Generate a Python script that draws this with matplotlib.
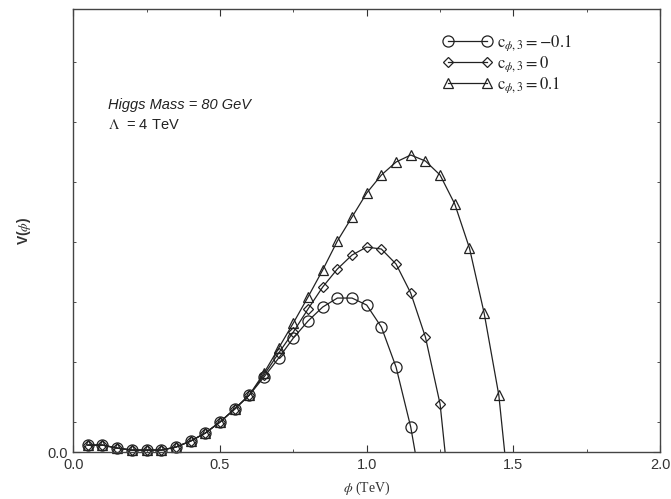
import matplotlib
matplotlib.use("Agg")
import matplotlib.pyplot as plt
from matplotlib.ticker import MultipleLocator, FixedLocator

# data (V in arbitrary units)
x_common = [0.05, 0.10, 0.15, 0.20, 0.25, 0.30, 0.35, 0.40, 0.45, 0.50, 0.55, 0.60]
v_common = [7, 7, 4, 2, 2, 2, 5, 11, 19, 30, 43, 57]

x_circ = [0.65, 0.70, 0.75, 0.80, 0.85, 0.90, 0.95, 1.00, 1.05, 1.10, 1.15]
v_circ = [75, 94, 114, 131, 145, 154, 154, 147, 125, 85, 25]
end_circ = 1.165

x_diam = [0.65, 0.70, 0.75, 0.80, 0.85, 0.90, 0.95, 1.00, 1.05, 1.10, 1.15, 1.20, 1.25]
v_diam = [77, 99, 120, 143, 165, 183, 197, 205, 203, 188, 159, 115, 48]
end_diam = 1.267

x_tri = [0.65, 0.70, 0.75, 0.80, 0.85, 0.90, 0.95, 1.00, 1.05, 1.10, 1.15, 1.20, 1.25, 1.30, 1.35, 1.40, 1.45]
v_tri = [79, 104, 129, 155, 182, 211, 235, 259, 277, 290, 297, 291, 277, 248, 204, 139, 57]
end_tri = 1.47

labels = [r'$\mathrm{c}_{\phi,3} = -0.1$', r'$\mathrm{c}_{\phi,3} = 0$', r'$\mathrm{c}_{\phi,3} = 0.1$']
markers = ['o', 'D', '^']
msizes = [8.0, 5.5, 7.5]

plt.rcParams['mathtext.fontset'] = 'stix'

fig = plt.figure(figsize=(6.71, 4.99), dpi=100)
ax = fig.add_axes([0.109, 0.094, 0.875, 0.888])

series = [(x_circ, v_circ, end_circ), (x_diam, v_diam, end_diam), (x_tri, v_tri, end_tri)]
col = '#222222'
for (xs, vs, xe), m, ms, lab in zip(series, markers, msizes, labels):
    X = x_common + xs + [xe]
    V = v_common + vs + [0]
    n = len(X)
    ax.plot(X, V, color=col, lw=0.9, marker=m, ms=ms, mfc='none', mec=col, mew=0.9,
            markevery=list(range(n - 1)), label=lab, clip_on=False)

ax.set_xlim(0, 2.0)
ax.set_ylim(0, 443)
ax.xaxis.set_major_locator(MultipleLocator(0.5))
ax.xaxis.set_minor_locator(MultipleLocator(0.25))
ax.yaxis.set_major_locator(FixedLocator([0]))
ax.yaxis.set_minor_locator(FixedLocator([30, 90, 150, 210, 270, 330, 390]))
ax.set_yticklabels(['0.0'])
ax.tick_params(which='both', direction='in', top=True, right=True, colors='#333333',
               labelsize=10.5, pad=4)
ax.tick_params(which='major', length=5)
ax.tick_params(which='minor', length=2.5)
for lab in ax.get_xticklabels() + ax.get_yticklabels():
    lab.set_family('Liberation Sans')
for s in ax.spines.values():
    s.set_color('#444444')
    s.set_linewidth(1.0)

ax.set_xlabel(r'$\phi$ (TeV)', family='Liberation Serif', fontsize=10, color='#333333', labelpad=6)
ax.set_ylabel(r'V($\phi$)', family='Liberation Sans', fontsize=10, color='#333333',
              labelpad=10, fontweight='bold')

ax.text(0.060, 0.775, 'Higgs Mass = 80 GeV', transform=ax.transAxes, family='Liberation Sans',
        style='italic', fontsize=10.5, color='#222222')
ax.text(0.060, 0.730, r'$\Lambda$  = 4 TeV', transform=ax.transAxes, family='Liberation Sans',
        fontsize=10.5, color='#222222')

leg = ax.legend(loc='upper left', bbox_to_anchor=(0.630, 0.945), frameon=False, numpoints=2,
                borderpad=0, borderaxespad=0,
                handlelength=2.95, handletextpad=0.3, labelspacing=0.08,
                prop={'family': 'Liberation Serif', 'size': 12})
for t in leg.get_texts():
    t.set_color('#222222')

fig.savefig('out.png', dpi=100)
